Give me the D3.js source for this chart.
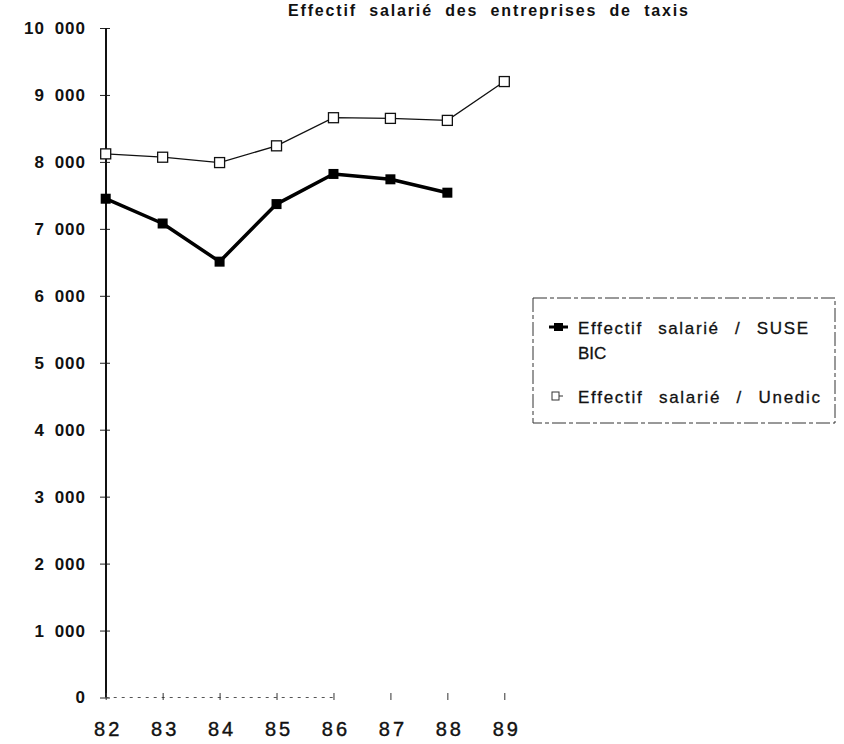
<!DOCTYPE html>
<html>
<head>
<meta charset="utf-8">
<script src="https://cdn.jsdelivr.net/npm/d3@7/dist/d3.min.js"></script>
<style>
  html, body { margin: 0; padding: 0; background: #fff; }
  svg { display: block; font-family: "Liberation Sans", Arial, Helvetica, sans-serif; }
</style>
</head>
<body>
<svg id="chart" width="844" height="744"></svg>
<script>
const title = "Effectif salarié des entreprises de taxis";
const years = ["82", "83", "84", "85", "86", "87", "88", "89"];
const suseYears = ["82", "83", "84", "85", "86", "87", "88"];
const suseValues = [7450, 7080, 6510, 7370, 7820, 7740, 7540];
const unedicValues = [8120, 8070, 7990, 8240, 8660, 8650, 8620, 9200];
const yTicks = [0, 1000, 2000, 3000, 4000, 5000, 6000, 7000, 8000, 9000, 10000];
const seriesNames = ["Effectif salarié / SUSE", "BIC", "Effectif salarié / Unedic"];

const svg = d3.select("#chart");
const x = d3.scalePoint().domain(years).range([105.7, 504.3]);
const y = d3.scaleLinear().domain([0, 10000]).range([697.5, 28]);
const fmt = d3.formatLocale({decimal: ",", thousands: " ", grouping: [3], currency: ["", ""]}).format(",d");

// Title
svg.append("text")
  .attr("x", 288).attr("y", 16)
  .attr("font-size", 16).attr("font-weight", "bold")
  .attr("word-spacing", 6)
  .attr("textLength", 400).attr("lengthAdjust", "spacing")
  .attr("fill", "#111")
  .text(title);

// Y axis
const yAxis = d3.axisLeft(y).tickValues(yTicks).tickSizeInner(10).tickSizeOuter(0).tickPadding(14).tickFormat(fmt);
const gy = svg.append("g").attr("transform", "translate(110,0)").call(yAxis);
gy.select(".domain").remove();
gy.selectAll(".tick line").attr("stroke", "#222").attr("stroke-width", 1);
gy.selectAll(".tick text")
  .attr("font-size", 17).attr("font-weight", "bold")
  .attr("letter-spacing", 1).attr("word-spacing", 4)
  .attr("fill", "#111").attr("font-family", "'Liberation Sans', Arial, sans-serif");
svg.append("line")
  .attr("x1", 106).attr("x2", 106).attr("y1", y(10000)).attr("y2", y(0))
  .attr("stroke", "#111").attr("stroke-width", 2);

// X axis
svg.append("line")
  .attr("x1", x("82")).attr("x2", x("86")).attr("y1", y(0)).attr("y2", y(0))
  .attr("stroke", "#555").attr("stroke-width", 1).attr("stroke-dasharray", "3,5");
const xAxis = d3.axisBottom(x).tickSizeInner(7).tickSizeOuter(0).tickPadding(22);
const gx = svg.append("g").attr("transform", "translate(0,693)").call(xAxis);
gx.select(".domain").remove();
gx.selectAll(".tick line").attr("stroke", "#333").attr("stroke-width", 1);
gx.selectAll(".tick text")
  .attr("font-size", 20).attr("letter-spacing", 3)
  .attr("fill", "#111").attr("stroke", "#111").attr("stroke-width", 0.4)
  .attr("font-family", "'Liberation Sans', Arial, sans-serif")
  .attr("dx", "0.1em");

// Lines
const line = d3.line().x(d => x(d[0])).y(d => y(d[1]));
const unedic = years.map((yr, i) => [yr, unedicValues[i]]);
const suse = suseYears.map((yr, i) => [yr, suseValues[i]]);

svg.append("path").datum(unedic).attr("d", line)
  .attr("fill", "none").attr("stroke", "#111").attr("stroke-width", 1.3);
svg.selectAll("rect.unedic").data(unedic).enter().append("rect")
  .attr("class", "unedic")
  .attr("x", d => x(d[0]) - 5).attr("y", d => y(d[1]) - 5)
  .attr("width", 10).attr("height", 10)
  .attr("fill", "#fff").attr("stroke", "#111").attr("stroke-width", 1.3);

svg.append("path").datum(suse).attr("d", line)
  .attr("fill", "none").attr("stroke", "#000").attr("stroke-width", 3.5).attr("stroke-linejoin", "round");
svg.selectAll("rect.suse").data(suse).enter().append("rect")
  .attr("class", "suse")
  .attr("x", d => x(d[0]) - 5).attr("y", d => y(d[1]) - 5)
  .attr("width", 10).attr("height", 10)
  .attr("fill", "#000");

// Legend
const lg = svg.append("g");
lg.append("rect")
  .attr("x", 533).attr("y", 298).attr("width", 302).attr("height", 125)
  .attr("fill", "none").attr("stroke", "#333").attr("stroke-width", 1)
  .attr("stroke-dasharray", "14,3,4,3");
lg.append("line").attr("x1", 549).attr("x2", 568).attr("y1", 327).attr("y2", 327)
  .attr("stroke", "#000").attr("stroke-width", 3);
lg.append("rect").attr("x", 554).attr("y", 323).attr("width", 9).attr("height", 8).attr("fill", "#000");
lg.append("line").attr("x1", 556).attr("x2", 563).attr("y1", 396).attr("y2", 396)
  .attr("stroke", "#333").attr("stroke-width", 1);
lg.append("rect").attr("x", 552).attr("y", 392).attr("width", 7).attr("height", 8)
  .attr("fill", "#fff").attr("stroke", "#333").attr("stroke-width", 1);

const legText = [[seriesNames[0], 334, 230], [seriesNames[1], 359, null], [seriesNames[2], 403, 242]];
lg.selectAll("text.leg").data(legText).enter().append("text")
  .attr("class", "leg")
  .attr("x", 578).attr("y", d => d[1])
  .attr("font-size", 17).attr("word-spacing", 9)
  .attr("textLength", d => d[2]).attr("lengthAdjust", "spacing")
  .attr("fill", "#111").attr("stroke", "#111").attr("stroke-width", 0.3)
  .text(d => d[0]);
</script>
</body>
</html>
